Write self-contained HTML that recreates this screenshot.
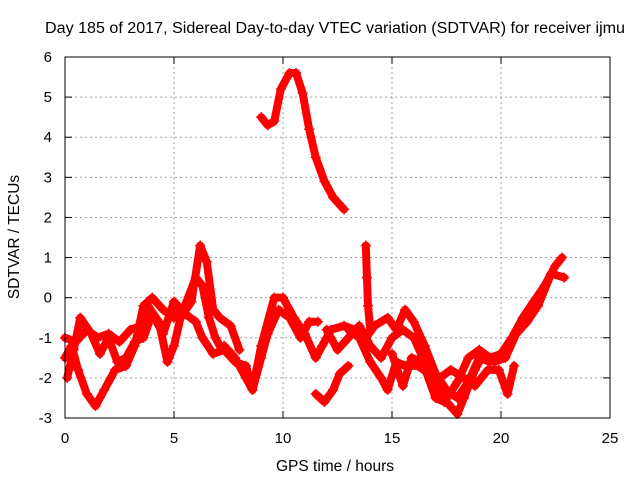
<!DOCTYPE html>
<html><head><meta charset="utf-8"><style>
body{margin:0;background:#fff;}
svg{display:block;font-family:"Liberation Sans",sans-serif;}
</style></head><body>
<svg id="c" width="640" height="480">
<text x="335" y="33" text-anchor="middle" font-size="15.5" textLength="580" lengthAdjust="spacingAndGlyphs">Day 185 of 2017, Sidereal Day-to-day VTEC variation (SDTVAR) for receiver ijmu</text>
<text x="335" y="471" text-anchor="middle" font-size="15.5">GPS time / hours</text>
<text transform="translate(19,237) rotate(-90)" text-anchor="middle" font-size="15.5">SDTVAR / TECUs</text>
<g id="grid"></g><g id="ticks"></g><g id="marks"></g>
<rect x="65" y="57" width="545" height="361" fill="none" stroke="#000" stroke-width="1"/>
</svg>
<script>
const xTicks=[0,5,10,15,20,25];
const yTicks=[-3,-2,-1,0,1,2,3,4,5,6];
const track1=[[9.0,4.5],[9.3,4.3],[9.6,4.4],[9.9,5.2],[10.3,5.6],[10.6,5.6],[10.9,5.1],[11.2,4.2],[11.5,3.5],[11.9,2.9],[12.3,2.5],[12.8,2.2]];
const track2=[[0,-1.5],[0.3,-1.2],[0.6,-1.8],[1.0,-2.4],[1.4,-2.7],[1.8,-2.3],[2.3,-1.8],[2.8,-1.7],[3.2,-1.2],[3.6,-0.2],[4.0,0.0],[4.5,-0.3],[5.0,-0.5],[5.5,-0.2],[6.0,0.5],[6.3,0.3],[6.6,-0.5],[6.9,-1.0],[7.2,-1.3]];
const track3=[[0,-1.0],[0.5,-1.1],[1.0,-0.8],[1.5,-1.0],[2.0,-0.9],[2.5,-1.1],[3.0,-0.8],[3.5,-0.7],[3.8,-0.2],[4.3,-0.6],[4.7,-1.6],[5.0,-1.2],[5.3,-0.5],[5.8,-0.1],[6.2,1.3],[6.5,0.9],[6.8,-0.3],[7.1,-0.5],[7.6,-0.7],[8.0,-1.3]];
const track4=[[0.1,-2.0],[0.4,-1.3],[0.7,-0.5],[1.2,-0.9],[1.6,-1.4],[2.0,-1.0],[2.4,-1.6],[2.8,-1.5],[3.2,-1.1],[3.6,-1.0],[4.0,-0.4],[4.5,-0.9],[5.0,-0.1],[5.5,-0.4],[6.0,-0.6],[6.3,-1.0],[6.8,-1.4],[7.3,-1.3],[7.8,-1.6],[8.3,-1.7],[8.6,-2.3],[9.0,-1.5],[9.3,-0.9],[9.8,-0.3],[10.3,-0.5],[10.8,-1.0],[11.2,-0.6],[11.6,-0.6]];
const track5=[[7.3,-1.2],[7.8,-1.5],[8.3,-2.0],[8.6,-2.3],[9.0,-1.2],[9.6,0.0],[10.0,0.0],[10.5,-0.5],[11.0,-0.9],[11.5,-1.5],[11.8,-1.2],[12.2,-0.8],[12.8,-0.7],[13.3,-0.8],[13.8,-1.0],[14.2,-0.7],[14.8,-0.5],[15.2,-0.8],[15.6,-0.3],[16.0,-0.6],[16.5,-1.2],[17.0,-1.9],[17.5,-2.3],[18.0,-2.5],[18.5,-2.1],[19.0,-1.5],[19.5,-1.6],[20.0,-1.4],[20.5,-1.0],[21.0,-0.5],[21.5,-0.1],[22.0,0.3],[22.5,0.8],[22.8,1.0]];
const track6=[[11.5,-2.4],[11.9,-2.6],[12.3,-2.3],[12.6,-1.9],[13.0,-1.7]];
const track7=[[13.8,1.3],[13.85,0.5],[13.9,-0.2],[14.0,-0.8]];
const track8=[[12.0,-0.8],[12.5,-1.3],[13.0,-1.0],[13.5,-0.7],[14.0,-1.2],[14.5,-1.5],[15.0,-1.0],[15.5,-0.8],[16.0,-1.0],[16.5,-1.6],[17.0,-2.2],[17.5,-2.6],[18.0,-2.9],[18.3,-2.5],[18.8,-1.8],[19.2,-1.4],[19.7,-1.6],[20.2,-1.5],[20.7,-0.9],[21.2,-0.6],[21.7,-0.2],[22.3,0.6],[22.9,0.5]];
const track9=[[13.0,-0.8],[13.5,-1.0],[14.0,-1.6],[14.5,-2.0],[14.8,-2.3],[15.2,-1.6],[15.6,-1.7],[16.2,-1.7],[16.7,-1.9],[17.2,-2.0],[17.7,-1.8],[18.3,-2.0],[18.8,-2.2],[19.4,-1.8],[19.9,-1.8],[20.3,-2.4],[20.6,-1.7]];
const track10=[[15.0,-1.4],[15.5,-2.2],[15.9,-1.5],[16.4,-1.6],[17.0,-2.5],[17.4,-2.6],[18.0,-2.1],[18.5,-1.5],[19.0,-1.3],[19.5,-1.5],[20.0,-1.4]];
const tracks=[track1,track2,track3,track4,track5,track6,track7,track8,track9,track10];
const NS="http://www.w3.org/2000/svg";
function X(h){return 65+h*(545/25);}
function Y(v){return 418-(v+3)*(361/9);}
function mk(t,a){const e=document.createElementNS(NS,t);for(const k in a)e.setAttribute(k,a[k]);return e;}
const grid=document.getElementById('grid'),ticks=document.getElementById('ticks'),marks=document.getElementById('marks');
xTicks.forEach(t=>{const x=X(t);
 if(t>0&&t<25){const g=mk('line',{x1:x,x2:x,y1:57,y2:418,stroke:'#a0a0a0','stroke-dasharray':'2,3'});
 
 grid.appendChild(g);}
 ticks.appendChild(mk('line',{x1:x,x2:x,y1:418,y2:411,stroke:'#000'}));
 ticks.appendChild(mk('line',{x1:x,x2:x,y1:57,y2:64,stroke:'#000'}));
 const lb=mk('text',{x:x,y:443,'text-anchor':'middle','font-size':'15'});lb.textContent=t;
 
 ticks.appendChild(lb);});
yTicks.forEach(t=>{const y=Y(t);
 if(t>-3&&t<6){const g=mk('line',{x1:65,x2:610,y1:y,y2:y,stroke:'#a0a0a0','stroke-dasharray':'2,3'});
 
 grid.appendChild(g);}
 ticks.appendChild(mk('line',{x1:65,x2:72,y1:y,y2:y,stroke:'#000'}));
 ticks.appendChild(mk('line',{x1:610,x2:603,y1:y,y2:y,stroke:'#000'}));
 const lb=mk('text',{x:52,y:y+5,'text-anchor':'end','font-size':'15'});lb.textContent=t;
 
 ticks.appendChild(lb);});
tracks.forEach(tr=>{
 const pl=mk('polyline',{points:tr.map(p=>X(p[0])+','+Y(p[1])).join(' '),fill:'none',stroke:'#ff0000','stroke-width':8,'stroke-linejoin':'round','stroke-linecap':'round'});
 
 
 marks.appendChild(pl);
 tr.forEach(p=>{const x=X(p[0]),y=Y(p[1]);
  const m=mk('path',{d:`M${x-5},${y}h10M${x},${y-5}v10`,stroke:'#ff0000','stroke-width':1.5});
  
  
  marks.appendChild(m);});
});
</script>
</body></html>
